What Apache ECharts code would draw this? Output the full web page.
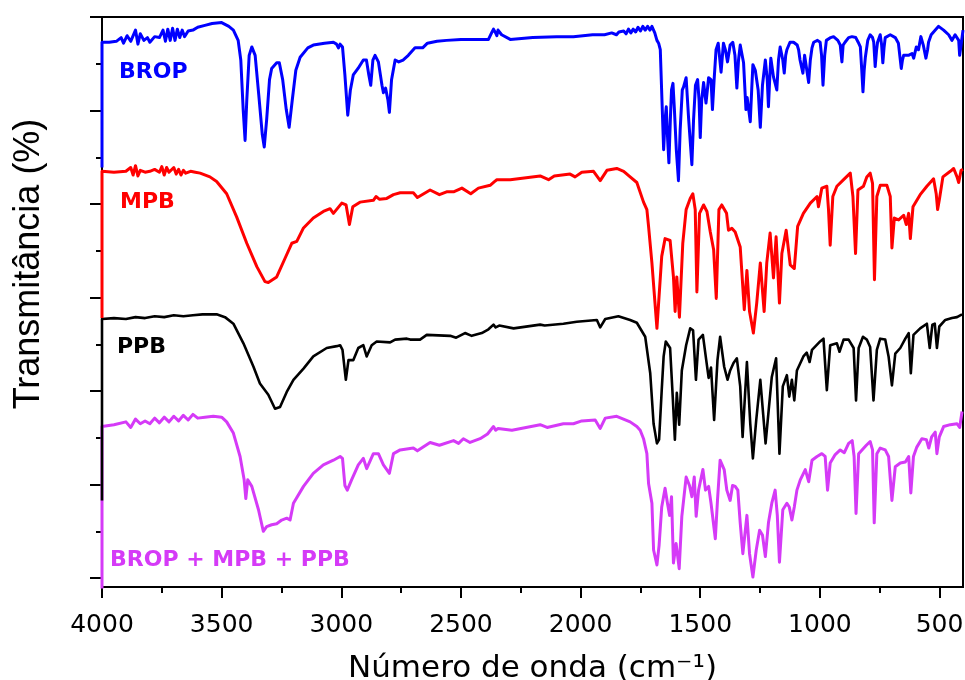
<!DOCTYPE html>
<html>
<head>
<meta charset="utf-8">
<script src="https://cdn.jsdelivr.net/npm/echarts@6/dist/echarts.min.js"></script>
<style>
html,body{margin:0;padding:0;background:#fff;}
#chart{width:965px;height:680px;}
</style>
</head>
<body>
<div id="chart"></div>
<script>
// Tick values (wavenumber, cm-1) and transmittance tick positions (offset units)
const majorX = [4000, 3500, 3000, 2500, 2000, 1500, 1000, 500];
const minorX = [3750, 3250, 2750, 2250, 1750, 1250, 750];
const majorY = [0, 10, 20, 30, 40, 50, 60];
const minorY = [5, 15, 25, 35, 45, 55];

const seriesNames = ['BROP', 'MPB', 'PPB', 'BROP + MPB + PPB'];

// Spectra: [wavenumber (cm-1), offset transmittance]
const BROP = [[4000,43.9],[4000,57.3],[3970,57.3],[3940,57.4],[3920,57.8],[3910,57.2],[3895,58.0],[3880,57.4],[3860,58.6],[3850,57.1],[3840,58.2],[3825,57.5],[3810,57.8],[3800,57.3],[3780,57.9],[3760,57.8],[3745,58.6],[3735,57.4],[3725,58.7],[3715,57.5],[3705,58.8],[3695,57.5],[3685,58.7],[3675,57.8],[3665,58.6],[3655,57.9],[3640,58.5],[3620,58.6],[3600,58.9],[3570,59.1],[3540,59.3],[3500,59.4],[3470,59.0],[3451,58.6],[3431,57.5],[3420,55.4],[3410,50.1],[3402,46.8],[3395,51.1],[3385,55.9],[3374,56.8],[3360,55.9],[3345,51.7],[3330,47.4],[3322,46.1],[3312,49.0],[3300,53.3],[3291,54.5],[3270,55.1],[3259,55.1],[3245,53.3],[3230,50.1],[3218,48.2],[3205,51.1],[3190,54.3],[3172,55.7],[3140,56.7],[3117,57.0],[3070,57.2],[3033,57.3],[3020,57.1],[3012,56.7],[3005,57.1],[2995,56.8],[2985,53.8],[2973,49.5],[2962,52.2],[2950,53.8],[2930,54.5],[2908,55.4],[2895,55.4],[2885,53.8],[2877,52.7],[2868,55.4],[2859,55.9],[2845,55.2],[2830,52.7],[2824,51.9],[2815,52.4],[2805,51.1],[2799,49.8],[2790,53.3],[2775,55.4],[2760,55.2],[2742,55.4],[2720,55.9],[2692,56.7],[2660,56.7],[2640,57.2],[2600,57.4],[2560,57.5],[2500,57.6],[2420,57.6],[2385,57.6],[2370,58.4],[2364,58.7],[2355,58.3],[2350,58.0],[2345,58.6],[2330,58.1],[2294,57.6],[2200,57.8],[2100,57.9],[2030,57.9],[1950,58.1],[1900,58.1],[1870,58.3],[1850,58.1],[1840,58.4],[1835,58.2],[1820,58.5],[1810,58.2],[1800,58.7],[1790,58.3],[1780,58.7],[1770,58.4],[1760,58.9],[1750,58.5],[1740,59.0],[1730,58.6],[1720,59.0],[1710,58.6],[1702,59.0],[1690,58.3],[1681,57.5],[1674,57.2],[1667,56.5],[1660,51.1],[1653,45.8],[1647,49.0],[1642,50.4],[1636,46.8],[1631,44.4],[1625,49.0],[1620,52.2],[1614,52.9],[1608,50.1],[1600,45.8],[1591,42.5],[1584,47.9],[1575,52.2],[1570,52.5],[1559,53.5],[1549,49.3],[1535,44.2],[1528,49.0],[1520,52.7],[1511,53.3],[1505,51.1],[1500,47.1],[1494,51.1],[1486,53.0],[1476,50.8],[1465,53.5],[1455,53.3],[1449,50.1],[1442,53.3],[1434,56.5],[1425,57.2],[1413,54.1],[1403,57.2],[1395,56.5],[1386,55.2],[1375,57.0],[1364,57.3],[1355,55.9],[1347,52.4],[1340,55.4],[1333,57.0],[1319,55.1],[1309,50.1],[1304,51.4],[1291,48.8],[1285,52.2],[1280,54.9],[1270,54.3],[1258,52.2],[1249,48.2],[1240,52.7],[1228,55.4],[1220,53.3],[1215,50.4],[1208,54.3],[1205,55.6],[1194,53.6],[1180,52.2],[1173,55.4],[1166,56.8],[1155,55.4],[1149,54.0],[1143,55.9],[1138,56.5],[1125,57.3],[1110,57.3],[1095,57.0],[1089,56.5],[1083,55.4],[1071,54.0],[1064,55.9],[1058,55.7],[1047,53.0],[1040,55.4],[1033,56.7],[1026,57.3],[1010,57.5],[999,57.3],[993,55.9],[987,52.7],[980,55.9],[973,57.5],[955,57.8],[943,57.9],[925,57.5],[915,57.0],[908,55.2],[903,57.0],[895,57.3],[880,57.8],[866,57.9],[850,57.8],[840,57.3],[831,56.8],[825,54.3],[820,52.0],[815,54.3],[810,55.7],[800,57.5],[790,58.1],[780,57.8],[775,57.3],[769,54.7],[763,56.5],[759,57.3],[748,58.1],[742,57.0],[737,55.1],[732,56.7],[727,57.8],[706,58.1],[685,57.8],[672,57.2],[660,54.5],[655,55.4],[650,55.9],[630,55.9],[615,56.1],[608,55.6],[597,56.8],[588,56.5],[578,57.9],[568,57.0],[557,55.6],[550,56.5],[546,57.3],[535,58.1],[525,58.4],[504,59.0],[483,58.6],[462,58.1],[448,57.5],[435,58.1],[427,58.3],[420,57.5],[416,55.9],[410,57.0],[402,58.6]];

const MPB = [[4000,27.8],[4000,43.5],[3950,43.4],[3900,43.5],[3880,43.9],[3870,43.1],[3860,44.1],[3850,43.0],[3840,43.6],[3820,43.4],[3800,43.5],[3780,43.7],[3760,43.4],[3750,44.0],[3740,43.1],[3730,43.9],[3720,43.4],[3700,43.9],[3690,43.2],[3680,43.7],[3670,43.1],[3660,43.6],[3650,43.3],[3630,43.5],[3610,43.4],[3590,43.3],[3549,42.9],[3521,42.4],[3479,41.1],[3437,38.6],[3395,35.8],[3353,33.3],[3319,31.7],[3305,31.6],[3270,32.2],[3235,34.2],[3207,35.8],[3186,36.0],[3159,37.4],[3117,38.5],[3075,39.2],[3047,39.5],[3033,39.0],[2998,40.1],[2980,39.9],[2966,37.8],[2952,39.7],[2922,40.2],[2866,40.4],[2855,40.8],[2840,40.5],[2810,40.6],[2782,41.0],[2754,41.2],[2699,41.2],[2682,40.7],[2629,41.5],[2590,41.0],[2560,41.3],[2531,41.3],[2496,41.7],[2459,41.1],[2427,41.7],[2378,42.0],[2360,42.4],[2350,42.6],[2294,42.6],[2169,43.0],[2134,42.6],[2110,43.0],[2044,43.2],[2023,42.9],[1995,43.4],[1946,43.5],[1918,42.5],[1890,43.6],[1849,43.8],[1820,43.5],[1793,42.9],[1765,42.3],[1737,40.2],[1723,39.4],[1716,37.6],[1702,33.7],[1681,26.7],[1661,34.4],[1647,36.3],[1626,36.1],[1612,32.2],[1605,28.5],[1598,32.2],[1587,27.9],[1573,35.8],[1559,39.4],[1542,40.6],[1531,41.1],[1521,39.4],[1514,30.6],[1503,39.0],[1486,39.9],[1472,39.2],[1458,37.0],[1444,35.1],[1433,29.9],[1422,39.4],[1410,39.9],[1390,39.0],[1382,37.2],[1368,37.4],[1354,37.0],[1333,35.4],[1316,28.7],[1305,32.9],[1294,28.5],[1278,26.2],[1264,29.4],[1249,33.7],[1233,28.5],[1222,33.7],[1208,36.9],[1194,32.1],[1183,36.5],[1169,29.4],[1159,34.7],[1141,37.2],[1124,33.5],[1107,33.1],[1093,37.6],[1069,39.0],[1040,40.1],[1012,40.8],[1006,39.7],[992,41.7],[971,41.9],[964,39.4],[957,35.6],[946,40.8],[929,41.9],[901,42.6],[873,43.3],[862,40.8],[851,34.7],[841,41.5],[818,41.9],[804,42.9],[790,43.3],[780,42.2],[772,31.9],[762,40.8],[748,42.0],[720,42.0],[706,40.8],[699,35.3],[689,38.5],[671,38.3],[650,38.8],[639,37.8],[629,39.0],[622,36.3],[611,39.7],[581,41.0],[553,41.9],[525,42.7],[514,41.1],[508,39.4],[500,40.6],[486,42.9],[455,43.5],[441,43.8],[427,42.9],[420,42.3],[410,43.6],[402,43.7]];

const PPB = [[4000,8.3],[4000,27.7],[3950,27.8],[3900,27.7],[3860,27.9],[3820,27.8],[3780,28.0],[3740,27.9],[3700,28.1],[3660,28.0],[3620,28.1],[3580,28.2],[3521,28.2],[3486,27.9],[3451,27.2],[3409,25.1],[3367,22.6],[3340,20.8],[3305,19.6],[3277,18.1],[3256,18.3],[3228,19.9],[3200,21.2],[3158,22.4],[3117,23.7],[3061,24.6],[3019,24.8],[3005,24.9],[2995,24.4],[2981,21.2],[2970,23.3],[2950,23.3],[2929,24.6],[2908,24.9],[2894,23.7],[2873,24.9],[2852,25.3],[2796,25.2],[2775,25.5],[2726,25.6],[2712,25.5],[2671,25.5],[2643,26.0],[2545,25.9],[2520,25.7],[2483,26.2],[2455,25.9],[2413,26.2],[2385,26.6],[2364,27.1],[2355,26.8],[2340,27.0],[2280,26.7],[2169,27.1],[2150,27.0],[2072,27.2],[2016,27.4],[1932,27.6],[1918,26.8],[1897,27.7],[1842,28.0],[1793,27.6],[1765,27.3],[1730,25.8],[1709,21.9],[1695,16.5],[1681,14.4],[1672,14.8],[1661,20.1],[1653,23.7],[1644,25.3],[1626,24.6],[1615,19.4],[1606,14.8],[1598,19.8],[1588,16.4],[1577,22.2],[1559,24.9],[1542,26.7],[1530,26.5],[1518,21.2],[1507,25.5],[1489,26.0],[1475,23.3],[1465,21.4],[1455,22.5],[1442,16.9],[1428,23.3],[1417,25.8],[1400,22.6],[1386,21.2],[1375,22.2],[1361,23.0],[1347,23.5],[1333,20.5],[1323,15.1],[1305,23.1],[1291,16.5],[1280,12.8],[1266,16.9],[1249,21.2],[1227,14.4],[1201,21.5],[1183,23.5],[1169,13.3],[1155,20.5],[1138,21.7],[1128,19.4],[1117,21.2],[1107,19.0],[1096,22.2],[1069,23.7],[1055,24.1],[1043,23.1],[1033,24.4],[999,25.3],[985,25.6],[971,20.1],[957,24.9],[929,25.1],[918,24.2],[901,25.5],[880,25.5],[859,24.6],[849,19.0],[838,24.6],[820,25.8],[804,25.5],[790,24.7],[776,19.0],[762,24.4],[748,25.6],[727,25.5],[713,23.7],[699,20.6],[685,24.0],[664,24.6],[643,25.6],[629,26.2],[620,21.9],[609,26.0],[581,26.7],[553,27.2],[541,24.6],[530,27.1],[520,27.2],[511,24.6],[501,26.9],[476,27.6],[448,27.8],[427,27.9],[406,28.2]];

const MIX = [[4000,-2.4],[4000,16.2],[3950,16.4],[3900,16.7],[3880,16.1],[3860,17.0],[3840,16.5],[3820,16.8],[3800,16.5],[3780,17.1],[3760,16.6],[3740,17.2],[3720,16.7],[3700,17.3],[3680,16.8],[3660,17.4],[3640,16.9],[3620,17.5],[3600,17.1],[3570,17.2],[3535,17.3],[3500,17.2],[3479,16.7],[3451,15.5],[3423,13.0],[3406,10.5],[3399,8.5],[3391,10.5],[3374,9.8],[3346,7.3],[3326,5.0],[3312,5.5],[3291,5.7],[3270,5.8],[3249,6.2],[3228,6.4],[3214,6.2],[3200,8.0],[3158,9.8],[3117,11.2],[3075,12.1],[3033,12.6],[3005,13.0],[2995,12.8],[2985,9.9],[2975,9.4],[2957,10.5],[2929,12.1],[2908,12.8],[2894,11.7],[2866,13.3],[2845,13.3],[2824,12.1],[2799,11.2],[2782,13.3],[2754,13.7],[2699,13.9],[2682,13.6],[2629,14.5],[2590,14.2],[2531,14.7],[2510,14.4],[2490,14.9],[2462,14.5],[2420,14.9],[2389,15.4],[2364,16.2],[2355,15.8],[2345,16.0],[2287,15.8],[2169,16.4],[2140,16.1],[2072,16.5],[2030,16.5],[1995,16.8],[1939,16.9],[1918,16.0],[1897,17.1],[1849,17.3],[1793,16.7],[1765,16.2],[1751,15.8],[1737,14.9],[1723,13.3],[1716,10.1],[1702,8.0],[1695,3.0],[1681,1.4],[1672,3.5],[1661,7.6],[1647,9.6],[1637,8.0],[1628,6.7],[1620,8.7],[1612,1.6],[1601,3.7],[1588,1.0],[1577,6.6],[1559,10.8],[1545,9.9],[1535,8.7],[1525,10.8],[1517,6.6],[1507,9.4],[1489,11.6],[1478,9.4],[1465,9.8],[1455,8.0],[1437,4.2],[1428,8.3],[1417,12.6],[1400,11.6],[1389,9.4],[1375,8.3],[1365,9.9],[1354,9.8],[1343,9.4],[1333,5.9],[1322,2.6],[1305,6.7],[1294,2.6],[1280,0.1],[1266,3.0],[1252,5.1],[1240,4.6],[1228,2.3],[1215,5.9],[1201,8.0],[1187,9.4],[1178,6.7],[1169,1.7],[1155,7.3],[1138,8.0],[1128,7.6],[1117,6.2],[1107,7.6],[1096,9.4],[1082,10.5],[1061,11.6],[1047,10.3],[1033,12.6],[1012,13.0],[992,13.3],[978,13.0],[968,9.4],[957,12.3],[936,13.2],[915,13.7],[898,13.4],[880,14.4],[865,14.7],[857,13.0],[849,6.9],[838,13.3],[824,13.7],[806,14.2],[790,14.6],[780,13.7],[773,5.9],[762,13.3],[748,13.9],[727,13.7],[713,13.0],[699,8.3],[685,11.9],[664,12.3],[643,12.4],[629,13.0],[620,9.1],[609,13.0],[595,14.0],[574,14.9],[555,14.8],[545,13.9],[533,15.1],[518,15.6],[511,13.3],[501,15.1],[483,16.2],[455,16.4],[427,16.5],[416,16.1],[406,17.8]];

const colors = { BROP: '#0000ff', MPB: '#ff0000', PPB: '#000000', MIX: '#d53af7' };

const chart = echarts.init(document.getElementById('chart'), null, { renderer: 'canvas' });
const FONT = '"DejaVu Sans", "Liberation Sans", sans-serif';

const gridBox = { left: 102, right: 2, top: 17, bottom: 93, containLabel: false, outerBoundsMode: 'none' };
const xBase = { type: 'value', min: 402, max: 4000, inverse: true, splitLine: { show: false } };
const yBase = { type: 'value', min: -0.96, max: 60, splitLine: { show: false } };

function line(name, data, color, width) {
  return {
    name: name, type: 'line', data: data, xAxisIndex: 0, yAxisIndex: 0,
    showSymbol: false, symbol: 'none', animation: false, clip: true,
    lineStyle: { color: color, width: width, join: 'round' }, itemStyle: { color: color }
  };
}

const option = {
  animation: false,
  backgroundColor: '#ffffff',
  grid: [
    Object.assign({ show: true, borderColor: '#000', borderWidth: 2, backgroundColor: 'transparent' }, gridBox),
    Object.assign({ show: false }, gridBox)
  ],
  xAxis: [
    Object.assign({}, xBase, {
      gridIndex: 0, position: 'bottom',
      axisLine: { show: true, onZero: false, lineStyle: { color: '#000', width: 2 } },
      axisTick: { show: true, inside: false, length: 11, customValues: majorX, lineStyle: { color: '#000', width: 2 } },
      axisLabel: { show: true, customValues: majorX, margin: 26, color: '#000', fontSize: 25, fontFamily: FONT,
        hideOverlap: false, formatter: function (v) { return String(v); } },
      name: 'Número de onda (cm⁻¹)', nameLocation: 'middle', nameGap: 66,
      nameTextStyle: { color: '#000', fontSize: 31, fontFamily: FONT }
    }),
    Object.assign({}, xBase, {
      gridIndex: 1, position: 'bottom',
      axisLine: { show: false, onZero: false },
      axisTick: { show: true, inside: false, length: 6, customValues: minorX, lineStyle: { color: '#000', width: 2 } },
      axisLabel: { show: false }
    })
  ],
  yAxis: [
    Object.assign({}, yBase, {
      gridIndex: 0, position: 'left',
      axisLine: { show: true, onZero: false, lineStyle: { color: '#000', width: 2 } },
      axisTick: { show: true, inside: false, length: 12, customValues: majorY, lineStyle: { color: '#000', width: 2 } },
      axisLabel: { show: false }
    }),
    Object.assign({}, yBase, {
      gridIndex: 1, position: 'left',
      axisLine: { show: false, onZero: false },
      axisTick: { show: true, inside: false, length: 6, customValues: minorY, lineStyle: { color: '#000', width: 2 } },
      axisLabel: { show: false }
    })
  ],
  series: [
    line(seriesNames[3], MIX, colors.MIX, 3),
    line(seriesNames[2], PPB, colors.PPB, 2.6),
    line(seriesNames[1], MPB, colors.MPB, 3),
    line(seriesNames[0], BROP, colors.BROP, 3)
  ],
  graphic: [
    { type: 'text', x: 29, y: 264, rotation: Math.PI / 2, z: 10,
      style: { text: 'Transmitância (%)', fill: '#000', font: '36px "Liberation Sans", Arial, sans-serif', align: 'center', verticalAlign: 'middle', textAlign: 'center', textVerticalAlign: 'middle' } },
    { type: 'text', x: 119, y: 72, z: 10,
      style: { text: seriesNames[0], fill: colors.BROP, font: 'bold 22px "DejaVu Sans", sans-serif', align: 'left', verticalAlign: 'middle', textAlign: 'left', textVerticalAlign: 'middle' } },
    { type: 'text', x: 120, y: 202, z: 10,
      style: { text: seriesNames[1], fill: colors.MPB, font: 'bold 22px "DejaVu Sans", sans-serif', align: 'left', verticalAlign: 'middle', textAlign: 'left', textVerticalAlign: 'middle' } },
    { type: 'text', x: 117, y: 347, z: 10,
      style: { text: seriesNames[2], fill: colors.PPB, font: 'bold 22px "DejaVu Sans", sans-serif', align: 'left', verticalAlign: 'middle', textAlign: 'left', textVerticalAlign: 'middle' } },
    { type: 'text', x: 110, y: 560, z: 10,
      style: { text: seriesNames[3], fill: colors.MIX, font: 'bold 22px "DejaVu Sans", sans-serif', align: 'left', verticalAlign: 'middle', textAlign: 'left', textVerticalAlign: 'middle' } }
  ]
};

chart.setOption(option);
</script>
</body>
</html>
